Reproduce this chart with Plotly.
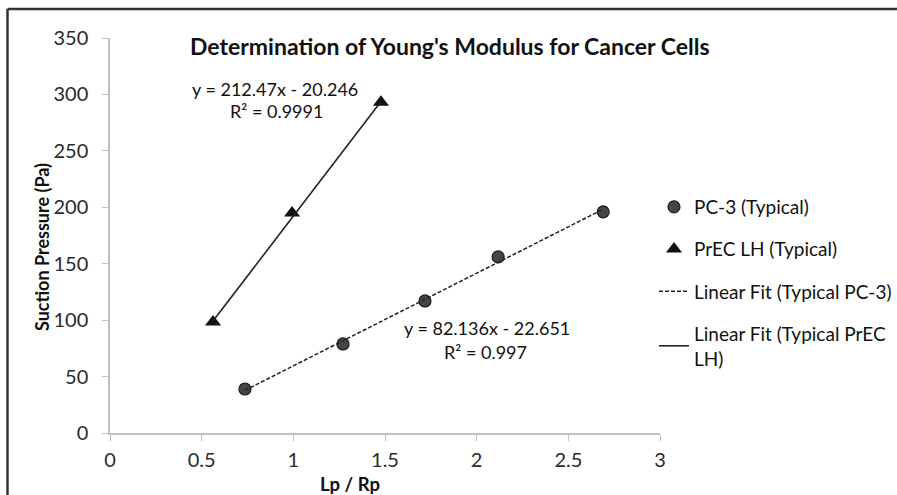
import plotly.graph_objects as go

# Measured aspiration data (Lp/Rp vs suction pressure)
pc3_x = [0.736, 1.271, 1.718, 2.117, 2.690]
pc3_y = [39.0, 78.9, 117.0, 156.0, 196.0]
prec_x = [0.562, 0.993, 1.478]
prec_y = [98.4, 195.0, 293.0]

# Linear fit coefficients (slope, intercept, R^2)
pc3_fit = (82.136, -22.651, 0.997)
prec_fit = (212.47, -20.246, 0.9991)

x_ticks = [0, 0.5, 1, 1.5, 2, 2.5, 3]
y_ticks = [0, 50, 100, 150, 200, 250, 300, 350]

FONT = "Lato"
W, H = 897, 495
L, R, T, B = 110, 237, 38, 62


def px_to_paper(px, py):
    return (px - L) / (W - L - R), (H - B - py) / (H - T - B)


def fit_line(xs, coef):
    m, c, _ = coef
    x0, x1 = min(xs), max(xs)
    return [x0, x1], [m * x0 + c, m * x1 + c]


fig = go.Figure()

fig.add_trace(go.Scatter(
    x=pc3_x, y=pc3_y, mode="markers", name="PC-3 (Typical)",
    marker=dict(symbol="circle", size=12, color="#454545",
                line=dict(color="#1a1a1a", width=1.2)),
    legendgroup="a",
))
fig.add_trace(go.Scatter(
    x=prec_x, y=prec_y, mode="markers", name="PrEC LH (Typical)",
    marker=dict(symbol="triangle-up", size=14, color="#111111"),
    legendgroup="b",
))
fx, fy = fit_line(pc3_x, pc3_fit)
fig.add_trace(go.Scatter(
    x=fx, y=fy, mode="lines", name="Linear Fit (Typical PC-3)",
    line=dict(color="#222222", width=1.5, dash="4px,2px"),
    legendgroup="c",
))
fx, fy = fit_line(prec_x, prec_fit)
fig.add_trace(go.Scatter(
    x=fx, y=fy, mode="lines", name="Linear Fit (Typical PrEC<br>LH)",
    line=dict(color="#222222", width=1.6),
    legendgroup="d",
))

axis_common = dict(
    showgrid=False, zeroline=False, showline=True, linecolor="#bfbfbf",
    linewidth=1.5, ticks="outside", tickcolor="#bfbfbf", ticklen=6,
    tickfont=dict(family=FONT, size=20, color="#2a2a2a"),
)
fig.update_xaxes(range=[0, 3], tickvals=x_ticks,
                 ticktext=[f"{v:g}" for v in x_ticks], ticklabelstandoff=2,
                 **axis_common)
fig.update_yaxes(range=[0, 350], tickvals=y_ticks,
                 ticktext=[str(v) for v in y_ticks], ticklabelstandoff=10,
                 **axis_common)

annotations = []


def text_at(px, py, text, size, bold=False, angle=0):
    ax, ay = px_to_paper(px, py)
    annotations.append(dict(
        x=ax, y=ay, xref="paper", yref="paper", text=f"<b>{text}</b>" if bold else text,
        showarrow=False, xanchor="center", yanchor="middle", textangle=angle,
        font=dict(family=FONT, size=size, color="#111111"),
    ))


text_at(450, 46, "Determination of Young's Modulus for Cancer Cells", 23, bold=True)
text_at(350, 484, "Lp / Rp", 18.5, bold=True)
text_at(42, 247, "Suction Pressure (Pa)", 18, bold=True, angle=-90)

m, c, r2 = prec_fit
text_at(275, 89, f"y = {m:g}x - {abs(c):g}", 18)
text_at(276, 111, f"R² = {r2:g}", 18)
m, c, r2 = pc3_fit
text_at(487, 328, f"y = {m:g}x - {abs(c):g}", 18)
text_at(485, 352, f"R² = {r2:g}", 18)

# outer frame (top and left edges)
fx0, fy0 = px_to_paper(7.5, 9)
fx1, fy1 = px_to_paper(W, H)
shapes = [
    dict(type="line", xref="paper", yref="paper", x0=fx0, x1=fx1, y0=fy0, y1=fy0,
         line=dict(color="#333333", width=2.5)),
    dict(type="line", xref="paper", yref="paper", x0=fx0, x1=fx0, y0=fy0, y1=fy1,
         line=dict(color="#333333", width=2.5)),
]

lx, ly = px_to_paper(654, 188)
fig.update_layout(
    width=W, height=H,
    margin=dict(l=L, r=R, t=T, b=B, autoexpand=False),
    paper_bgcolor="white", plot_bgcolor="white",
    showlegend=True,
    legend=dict(x=lx, y=ly, xanchor="left", yanchor="top",
                traceorder="grouped", tracegroupgap=14.5,
                font=dict(family=FONT, size=19, color="#111111"),
                bgcolor="rgba(0,0,0,0)", itemwidth=30),
    annotations=annotations,
    shapes=shapes,
)

fig.write_html("out.html")
